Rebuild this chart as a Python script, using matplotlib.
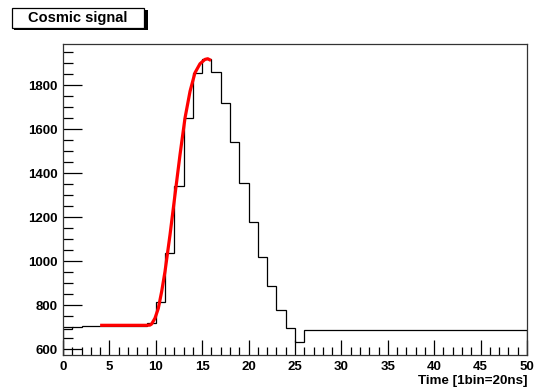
import matplotlib
matplotlib.use("Agg")
import matplotlib.pyplot as plt
from matplotlib.patches import Rectangle
import numpy as np

plt.rcParams['font.family'] = ['Liberation Sans', 'DejaVu Sans']

# Histogram: 50 bins of width 1 from 0 to 50
bin_edges = list(range(0, 51))
bin_values = [691, 699, 705, 705, 705, 705, 705, 705, 706, 720,
              814, 1036, 1343, 1651, 1853, 1921, 1861, 1719, 1542, 1355,
              1178, 1018, 888, 777, 694, 633, 688, 688, 688, 688,
              688, 688, 688, 688, 688, 688, 688, 688, 688, 688,
              688, 688, 688, 688, 688, 688, 688, 688, 688, 688]

# Fit curve
fit_x = [4.0, 9.0, 9.37, 9.55, 9.91, 10.27, 10.63, 10.99, 11.53, 12.07,
         12.61, 13.15, 13.69, 14.22, 14.76, 15.3, 15.6, 15.95]
fit_y = [708, 708, 709, 714, 740, 785, 861, 952, 1119, 1302,
         1484, 1651, 1772, 1856, 1897, 1917, 1920, 1912]

title = "Cosmic signal"
xlabel = "Time [1bin=20ns]"

fig = plt.figure(figsize=(5.42, 3.91), dpi=100)
ax = fig.add_axes([63/542, 1-355/391, (527-63)/542, (355-44)/391])

ax.stairs(bin_values, bin_edges, color='black', linewidth=0.9)
ax.plot(fit_x, fit_y, color='red', linewidth=2.3, solid_capstyle='butt', solid_joinstyle='round')

ax.set_xlim(0, 50)
ax.set_ylim(573, 1987)
ax.set_xticks(np.arange(0, 51, 5))
ax.set_xticks(np.arange(0, 51, 1), minor=True)
ax.set_yticks(np.arange(600, 1801, 200))
ax.set_yticks(np.arange(600, 1951, 50), minor=True)
ax.tick_params(axis='both', which='both', direction='in', top=False, right=False)
ax.tick_params(axis='x', which='major', length=11, width=0.9, pad=4, labelsize=9.5)
ax.tick_params(axis='x', which='minor', length=5.5, width=0.9)
ax.tick_params(axis='y', which='major', length=14, width=0.9, pad=4, labelsize=9.5)
ax.tick_params(axis='y', which='minor', length=7.5, width=0.9)
for lab in ax.get_xticklabels() + ax.get_yticklabels():
    lab.set_fontweight('bold')
for sp in ax.spines.values():
    sp.set_linewidth(0.9)
    sp.set_color('#333333')

fig.text(527/542, 1-381/391, xlabel, ha='right', va='center', fontsize=9.6, fontweight='bold')

# Title box with shadow
shadow = Rectangle((14/542, 1-30/391), (146-12)/542, (28-8)/391, transform=fig.transFigure,
                   facecolor='black', edgecolor='black', linewidth=0)
box = Rectangle((12/542, 1-28/391), (144-12)/542, (28-8)/391, transform=fig.transFigure,
                facecolor='white', edgecolor='black', linewidth=0.9)
fig.add_artist(shadow)
fig.add_artist(box)
fig.text(78/542, 1-18/391, title, ha='center', va='center', fontsize=10.5, fontweight='bold')

fig.savefig("out.png", dpi=100)
